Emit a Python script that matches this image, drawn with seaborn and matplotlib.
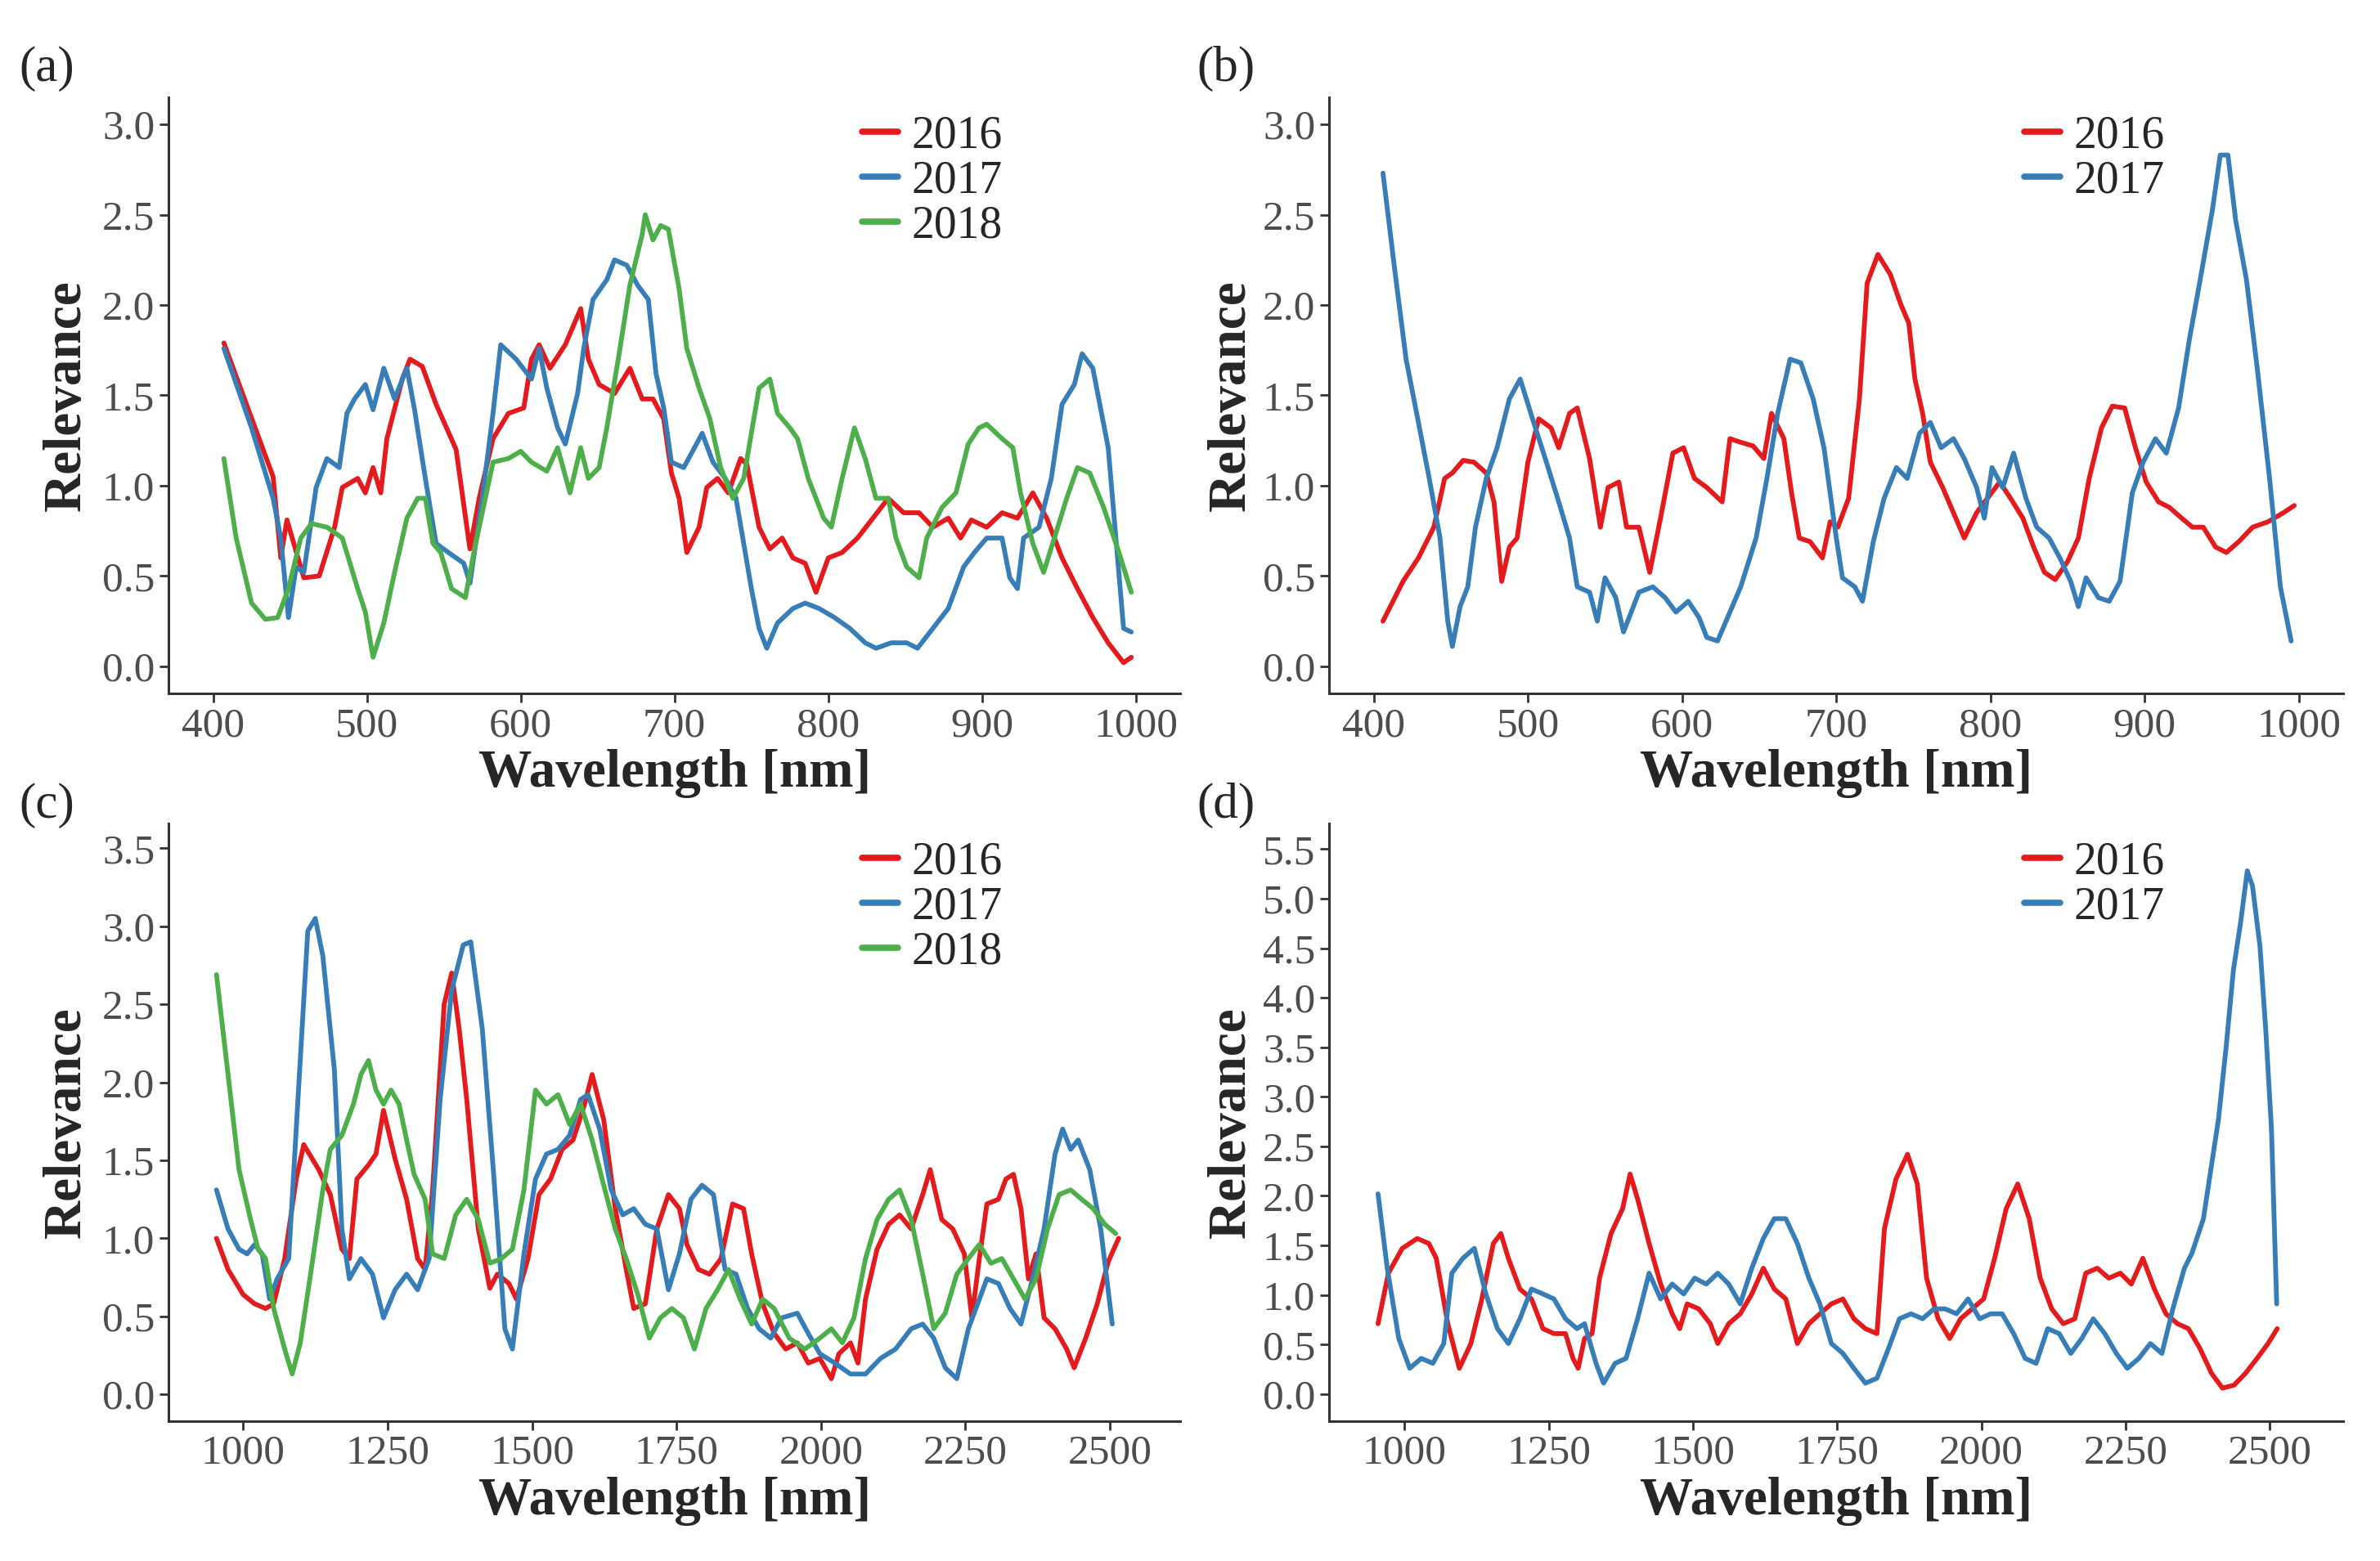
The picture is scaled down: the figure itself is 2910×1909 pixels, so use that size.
import numpy as np
import pandas as pd
import matplotlib
matplotlib.use("Agg")
import matplotlib.pyplot as plt
from matplotlib.ticker import FormatStrFormatter
import seaborn as sns

# ---- panel (a): VNIR, three years ----
a16_x = [407,439,444,448,459,469,479,484,494,499,504,509,513,523,528,536,545,558,565,567,
         573,582,592,602,607,612,619,629,639,644,651,661,671,679,686,693,698,703,708,716,
         721,728,735,743,747,755,762,770,777,785,792,800,809,819,829,839,849,859,868,878,
         886,893,903,913,923,933,942,952,962,972,982,992,997]
a16_y = [1.79,1.05,0.60,0.81,0.49,0.50,0.77,0.99,1.04,0.96,1.10,0.96,1.26,1.59,1.70,1.66,1.45,1.20,0.77,0.65,
         0.93,1.26,1.40,1.43,1.70,1.78,1.65,1.78,1.98,1.70,1.56,1.51,1.65,1.48,1.48,1.37,1.07,0.93,0.63,0.77,
         0.99,1.04,0.96,1.15,1.12,0.77,0.65,0.71,0.60,0.57,0.41,0.60,0.63,0.71,0.82,0.93,0.85,0.85,0.77,0.82,
         0.71,0.81,0.77,0.85,0.82,0.96,0.82,0.60,0.43,0.27,0.13,0.02,0.05]
a17_x = [407,425,439,444,449,454,459,467,474,482,487,492,499,504,511,518,526,531,538,545,
         553,563,567,575,582,587,597,607,612,617,624,629,637,641,647,656,661,669,676,683,
         688,693,698,706,713,718,725,733,740,750,755,760,767,777,785,794,804,814,824,831,
         841,851,858,868,878,888,895,903,913,918,923,927,937,945,952,960,965,972,982,992,997]
a17_y = [1.76,1.32,0.93,0.71,0.27,0.55,0.52,0.99,1.15,1.10,1.40,1.48,1.56,1.42,1.65,1.48,1.65,1.42,1.04,0.68,
         0.63,0.57,0.46,0.93,1.40,1.78,1.70,1.59,1.76,1.54,1.32,1.23,1.51,1.76,2.03,2.14,2.25,2.22,2.11,2.03,
         1.62,1.43,1.13,1.10,1.21,1.29,1.13,1.04,0.93,0.43,0.21,0.10,0.24,0.32,0.35,0.32,0.27,0.21,0.13,0.10,
         0.13,0.13,0.10,0.21,0.32,0.55,0.63,0.71,0.71,0.49,0.43,0.71,0.77,1.04,1.45,1.56,1.73,1.65,1.21,0.21,0.19]
a18_x = [407,415,425,434,442,449,457,464,474,484,494,499,504,511,518,526,533,538,543,548,
         555,564,570,577,582,592,600,607,617,624,632,639,644,651,656,664,671,679,681,686,
         691,696,703,708,716,723,730,738,745,750,755,762,767,775,780,787,797,802,809,817,
         824,831,839,844,851,859,864,874,883,891,898,903,913,920,925,933,940,947,955,962,
         970,979,989,997]
a18_y = [1.15,0.71,0.35,0.26,0.27,0.43,0.71,0.79,0.77,0.71,0.43,0.30,0.05,0.24,0.52,0.82,0.93,0.93,0.68,0.63,
         0.43,0.38,0.65,0.93,1.13,1.15,1.19,1.13,1.08,1.21,0.96,1.21,1.04,1.10,1.32,1.73,2.11,2.39,2.50,2.36,
         2.44,2.42,2.09,1.76,1.54,1.37,1.10,0.93,1.04,1.29,1.54,1.59,1.40,1.32,1.26,1.04,0.82,0.77,1.04,1.32,
         1.15,0.93,0.93,0.71,0.55,0.49,0.71,0.88,0.96,1.23,1.32,1.34,1.26,1.21,0.96,0.68,0.52,0.71,0.93,1.10,
         1.07,0.88,0.63,0.41]

# ---- panel (b): VNIR, two years ----
b16_x = [406,419,429,439,446,451,458,465,473,478,483,488,493,500,507,515,520,527,532,540,
         547,552,559,564,572,579,586,594,601,608,616,626,631,638,646,653,658,666,671,676,
         683,691,696,701,708,715,720,727,735,742,747,751,756,761,769,776,783,791,798,806,
         813,821,828,835,842,850,857,864,872,879,887,894,901,909,916,924,931,938,946,953,
         961,970,980,990,997]
b16_y = [0.25,0.47,0.60,0.77,1.04,1.07,1.14,1.13,1.07,0.91,0.47,0.66,0.71,1.13,1.37,1.32,1.21,1.40,1.43,1.15,
         0.77,0.99,1.02,0.77,0.77,0.52,0.82,1.18,1.21,1.04,0.99,0.91,1.26,1.24,1.22,1.15,1.40,1.26,0.96,0.71,
         0.69,0.60,0.80,0.77,0.93,1.48,2.12,2.28,2.17,2.00,1.90,1.59,1.40,1.13,0.99,0.85,0.71,0.85,0.93,1.02,
         0.93,0.82,0.66,0.52,0.48,0.58,0.71,1.04,1.32,1.44,1.43,1.21,1.02,0.91,0.88,0.82,0.77,0.77,0.66,0.63,
         0.69,0.77,0.80,0.85,0.89]
b17_x = [406,414,421,429,436,443,448,451,456,461,466,473,480,488,495,503,512,520,527,532,
         540,545,550,557,562,572,581,589,596,604,611,616,623,631,638,648,655,662,670,677,
         685,692,700,704,712,717,724,731,739,746,754,761,768,776,783,791,796,801,808,815,
         823,830,838,845,852,857,862,870,877,884,892,899,907,914,922,929,936,944,949,954,
         959,966,973,981,988,995]
b17_y = [2.73,2.17,1.70,1.35,1.04,0.71,0.25,0.11,0.33,0.44,0.77,1.04,1.21,1.48,1.59,1.37,1.13,0.91,0.71,0.44,
         0.41,0.25,0.49,0.38,0.19,0.41,0.44,0.38,0.30,0.36,0.27,0.16,0.14,0.30,0.44,0.71,1.04,1.40,1.70,1.68,
         1.48,1.21,0.71,0.49,0.44,0.36,0.69,0.93,1.10,1.04,1.29,1.35,1.21,1.26,1.15,0.99,0.82,1.10,0.99,1.18,
         0.93,0.77,0.71,0.60,0.47,0.33,0.49,0.38,0.36,0.47,0.96,1.13,1.26,1.18,1.43,1.81,2.14,2.53,2.83,2.83,
         2.47,2.14,1.65,1.04,0.44,0.14]

# ---- panel (c): SWIR, three years ----
c16_x = [954,974,1000,1020,1039,1053,1072,1092,1105,1131,1151,1171,1184,1197,1217,1230,1243,1263,1283,1302,
         1315,1328,1348,1361,1374,1387,1407,1427,1440,1460,1473,1493,1512,1532,1552,1571,1591,1604,1624,1644,
         1663,1676,1696,1716,1736,1755,1768,1788,1807,1827,1847,1866,1880,1899,1919,1939,1959,1978,1998,2018,
         2031,2051,2064,2077,2097,2117,2136,2156,2176,2189,2209,2228,2248,2261,2274,2287,2307,2320,2333,2346,
         2359,2372,2386,2405,2425,2438,2458,2478,2497,2515]
c16_y = [1.00,0.80,0.64,0.58,0.55,0.58,0.87,1.38,1.60,1.44,1.28,0.93,0.87,1.38,1.47,1.54,1.82,1.51,1.25,0.87,
         0.80,1.31,2.50,2.70,2.34,1.89,1.06,0.68,0.77,0.71,0.61,0.87,1.28,1.38,1.57,1.63,1.86,2.05,1.76,1.19,
         0.80,0.55,0.58,1.06,1.28,1.19,0.96,0.80,0.77,0.87,1.22,1.19,0.90,0.58,0.39,0.29,0.33,0.20,0.23,0.10,
         0.26,0.33,0.20,0.61,0.93,1.09,1.15,1.06,1.28,1.44,1.12,1.06,0.90,0.49,0.87,1.22,1.25,1.38,1.41,1.19,
         0.74,0.90,0.49,0.42,0.29,0.17,0.36,0.58,0.85,1.00]
c17_x = [954,974,993,1007,1020,1033,1046,1059,1079,1092,1112,1125,1138,1158,1171,1184,1204,1224,1243,1263,
         1283,1302,1322,1341,1361,1381,1394,1414,1433,1453,1466,1486,1506,1525,1545,1565,1584,1597,1617,1637,
         1657,1676,1696,1716,1736,1755,1775,1794,1814,1834,1853,1873,1893,1913,1932,1959,1978,1998,2024,2051,
         2077,2103,2129,2156,2176,2195,2215,2235,2255,2274,2287,2307,2327,2346,2366,2386,2405,2418,2432,2445,
         2465,2484,2504]
c17_y = [1.31,1.06,0.93,0.90,0.96,0.90,0.61,0.74,0.87,1.70,2.97,3.05,2.81,2.08,1.06,0.74,0.87,0.77,0.49,0.67,
         0.77,0.67,0.87,1.89,2.59,2.88,2.90,2.34,1.44,0.42,0.29,0.90,1.38,1.54,1.57,1.66,1.89,1.92,1.70,1.31,
         1.15,1.19,1.09,1.06,0.67,0.90,1.25,1.34,1.28,0.80,0.77,0.55,0.42,0.36,0.49,0.52,0.39,0.26,0.20,0.13,
         0.13,0.23,0.29,0.42,0.45,0.36,0.17,0.10,0.42,0.61,0.74,0.71,0.55,0.45,0.74,1.06,1.54,1.70,1.57,1.63,
         1.44,1.06,0.45]
c18_x = [954,974,993,1013,1026,1039,1053,1072,1085,1099,1118,1138,1151,1171,1191,1204,1217,1230,1243,1256,
         1270,1283,1296,1315,1328,1348,1368,1387,1407,1427,1447,1466,1486,1506,1525,1545,1565,1584,1604,1624,
         1644,1663,1683,1703,1722,1742,1762,1781,1801,1821,1840,1860,1880,1899,1919,1945,1972,1998,2018,2037,
         2057,2077,2097,2117,2136,2156,2176,2195,2215,2235,2255,2274,2294,2313,2333,2353,2372,2392,2412,2432,
         2451,2471,2491,2510]
c18_y = [2.69,2.05,1.44,1.12,0.93,0.87,0.55,0.29,0.13,0.33,0.80,1.31,1.57,1.66,1.86,2.05,2.14,1.95,1.86,1.95,
         1.86,1.63,1.41,1.25,0.90,0.87,1.15,1.25,1.12,0.84,0.87,0.93,1.31,1.95,1.86,1.92,1.73,1.86,1.63,1.34,
         1.06,0.87,0.64,0.36,0.49,0.55,0.49,0.29,0.55,0.67,0.80,0.61,0.45,0.61,0.55,0.36,0.29,0.36,0.42,0.33,
         0.49,0.87,1.12,1.25,1.31,1.12,0.77,0.42,0.52,0.77,0.87,0.96,0.84,0.87,0.74,0.61,0.74,1.06,1.28,1.31,
         1.25,1.19,1.09,1.03]

# ---- panel (d): SWIR, two years ----
d16_x = [954,972,996,1022,1042,1055,1075,1095,1115,1134,1154,1167,1180,1200,1220,1240,1259,1279,1292,1301,
         1312,1325,1338,1358,1378,1391,1404,1424,1444,1464,1477,1490,1510,1530,1543,1562,1582,1602,1622,1641,
         1661,1681,1701,1720,1740,1760,1779,1799,1819,1832,1852,1872,1889,1905,1925,1945,1964,1984,2004,2023,
         2043,2063,2083,2102,2122,2142,2162,2181,2201,2221,2241,2260,2280,2300,2320,2340,2359,2379,2399,2418,
         2438,2458,2478,2497,2513]
d16_y = [0.71,1.22,1.47,1.57,1.52,1.37,0.71,0.26,0.51,0.96,1.52,1.62,1.37,1.06,0.96,0.66,0.61,0.61,0.36,0.26,
         0.56,0.61,1.17,1.62,1.87,2.22,1.97,1.52,1.11,0.81,0.66,0.91,0.86,0.71,0.51,0.71,0.81,1.01,1.27,1.06,
         0.96,0.51,0.71,0.81,0.91,0.96,0.76,0.66,0.61,1.67,2.17,2.42,2.12,1.17,0.76,0.56,0.76,0.86,0.96,1.37,
         1.87,2.12,1.77,1.17,0.86,0.71,0.76,1.22,1.27,1.17,1.22,1.11,1.37,1.06,0.81,0.71,0.66,0.46,0.21,0.06,
         0.09,0.21,0.36,0.51,0.66]
d17_x = [954,970,990,1009,1029,1049,1068,1082,1101,1121,1141,1161,1180,1200,1220,1240,1259,1279,1299,1312,
         1332,1345,1365,1384,1404,1424,1444,1464,1484,1503,1523,1543,1562,1582,1602,1622,1641,1661,1681,1701,
         1720,1740,1760,1779,1799,1819,1839,1858,1878,1898,1918,1937,1957,1977,1997,2016,2036,2056,2076,2095,
         2115,2135,2155,2174,2194,2214,2234,2253,2273,2293,2313,2332,2352,2365,2385,2398,2411,2424,2437,2450,
         2461,2470,2483,2493,2503,2512]
d17_y = [2.02,1.27,0.56,0.26,0.36,0.31,0.51,1.22,1.37,1.47,1.01,0.66,0.51,0.76,1.06,1.01,0.96,0.76,0.66,0.71,
         0.31,0.11,0.31,0.36,0.76,1.22,0.96,1.11,1.01,1.17,1.11,1.22,1.11,0.91,1.27,1.57,1.77,1.77,1.52,1.17,
         0.91,0.51,0.41,0.26,0.11,0.16,0.46,0.76,0.81,0.76,0.86,0.86,0.81,0.96,0.76,0.81,0.81,0.61,0.36,0.31,
         0.66,0.61,0.41,0.56,0.76,0.61,0.41,0.26,0.36,0.51,0.41,0.86,1.27,1.42,1.77,2.27,2.77,3.48,4.28,4.78,
         5.28,5.13,4.52,3.68,2.67,0.91]

years = ["2016", "2017", "2018"]
palette = {"2016": "#E41A1C", "2017": "#377EB8", "2018": "#4DAF4A"}

vnir_ticks = [400, 500, 600, 700, 800, 900, 1000]
swir_ticks = [1000, 1250, 1500, 1750, 2000, 2250, 2500]

sns.set_theme(style="ticks")
plt.rcParams["font.family"] = ["Liberation Serif", "DejaVu Serif"]

TICK_SIZE = 37
LABEL_SIZE = 47


def long_frame(pairs):
    parts = []
    for year, (xs, ys) in zip(years, pairs):
        assert len(xs) == len(ys), year
        parts.append(pd.DataFrame({"Wavelength": xs, "Relevance": ys, "Year": year}))
    return pd.concat(parts, ignore_index=True)


def draw_panel(ax, pairs, tag, xlim, ylim, xticks, ymax_tick, ylab_x):
    df = long_frame(pairs)
    sns.lineplot(data=df, x="Wavelength", y="Relevance", hue="Year", palette=palette,
                 estimator=None, sort=False, linewidth=4.2, ax=ax)
    ax.set_xlim(*xlim)
    ax.set_ylim(*ylim)
    ax.set_xticks(xticks)
    ax.set_yticks(np.arange(0, ymax_tick + 0.01, 0.5))
    ax.yaxis.set_major_formatter(FormatStrFormatter("%.1f"))
    sns.despine(ax=ax)
    for side in ("left", "bottom"):
        ax.spines[side].set_color("#333333")
        ax.spines[side].set_linewidth(2.2)
    ax.tick_params(labelsize=TICK_SIZE, labelcolor="#4d4d4d", color="#333333",
                   length=8, width=2, pad=4)
    ax.set_xlabel("Wavelength [nm]", fontsize=LABEL_SIZE, fontweight="bold")
    ax.set_ylabel("Relevance", fontsize=LABEL_SIZE, fontweight="bold")
    ax.xaxis.set_label_coords(0.5, -0.135)
    ax.xaxis.label.set_va("center")
    ax.yaxis.set_label_coords(ylab_x, 0.5)
    ax.yaxis.label.set_va("center")
    sns.move_legend(ax, "upper left", bbox_to_anchor=(0.685, 0.97), frameon=False,
                    title=None, fontsize=40, handlelength=0.8, handletextpad=0.3,
                    labelspacing=0.05, borderpad=0, borderaxespad=0)
    for line in ax.get_legend().get_lines():
        line.set_linewidth(5.5)
    ax.figure.text(*tag[1], tag[0], fontsize=44, ha="left", va="center")


fig = plt.figure(figsize=(29.10, 19.09), dpi=100)
ax_a = fig.add_axes([0.0708, 0.5558, 0.4252, 0.3819])
ax_b = fig.add_axes([0.5584, 0.5558, 0.4263, 0.3819])
ax_c = fig.add_axes([0.0708, 0.0898, 0.4252, 0.3828])
ax_d = fig.add_axes([0.5584, 0.0898, 0.4263, 0.3828])

draw_panel(ax_a, [(a16_x, a16_y), (a17_x, a17_y), (a18_x, a18_y)], ("(a)", (0.008, 0.956)),
           (371, 1029), (-0.15, 3.15), vnir_ticks, 3.0, -0.1)
draw_panel(ax_b, [(b16_x, b16_y), (b17_x, b17_y)], ("(b)", (0.503, 0.956)),
           (371, 1029), (-0.15, 3.15), vnir_ticks, 3.0, -0.096)
draw_panel(ax_c, [(c16_x, c16_y), (c17_x, c17_y), (c18_x, c18_y)], ("(c)", (0.008, 0.484)),
           (871, 2622), (-0.17, 3.66), swir_ticks, 3.5, -0.1)
draw_panel(ax_d, [(d16_x, d16_y), (d17_x, d17_y)], ("(d)", (0.503, 0.484)),
           (869, 2628), (-0.27, 5.76), swir_ticks, 5.5, -0.096)

fig.savefig("out.png", dpi=100, facecolor="white")
